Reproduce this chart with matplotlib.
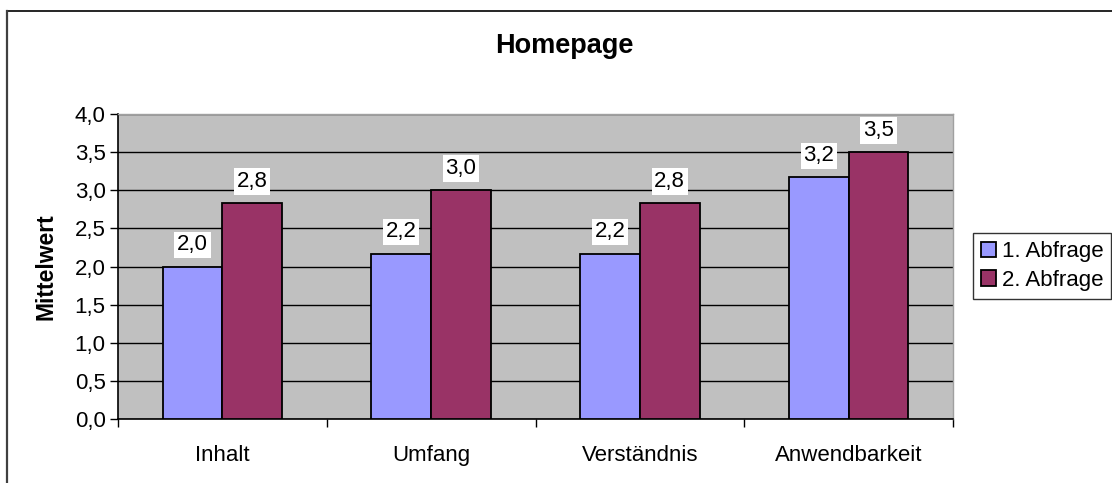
import matplotlib
matplotlib.use("Agg")
import matplotlib.pyplot as plt
from matplotlib.lines import Line2D
import numpy as np

categories = ["Inhalt", "Umfang", "Verständnis", "Anwendbarkeit"]
series_names = ["1. Abfrage", "2. Abfrage"]
abfrage1 = [2.0, 2.17, 2.17, 3.17]
abfrage2 = [2.83, 3.0, 2.83, 3.5]
yticks = [0.0, 0.5, 1.0, 1.5, 2.0, 2.5, 3.0, 3.5, 4.0]
colors = ["#9999FF", "#993366"]

plt.rcParams['font.family'] = ['Liberation Sans', 'DejaVu Sans']
FS = 16

fig = plt.figure(figsize=(11.12, 4.83), dpi=100)
ax = fig.add_axes([118/1112, 1-419/483, (953-118)/1112, (419-114)/483])
ax.set_facecolor("#C0C0C0")

x = np.arange(len(categories))
w = 1/3.5
for i, (vals, c, name) in enumerate(zip([abfrage1, abfrage2], colors, series_names)):
    pos = x + (i - 0.5) * w
    ax.bar(pos, vals, width=w, color=c, edgecolor="black", linewidth=1.3,
           label=name, zorder=3)
    for p, v in zip(pos, vals):
        ax.annotate(f"{v:.1f}".replace(".", ","), (p, v), xytext=(0, 8),
                    textcoords="offset points", ha="center", va="bottom",
                    fontsize=FS, zorder=4,
                    bbox=dict(boxstyle="square,pad=0.12", fc="white", ec="none"))

ax.set_xlim(-0.5, len(categories) - 0.5)
ax.set_ylim(0, 4.0)
ax.set_yticks(yticks)
ax.set_yticklabels([f"{t:.1f}".replace(".", ",") for t in yticks], fontsize=FS)
ax.yaxis.grid(True, color="black", linewidth=1.0, zorder=1)
ax.set_axisbelow(True)
ax.set_xticks(np.arange(len(categories) + 1) - 0.5, minor=False)
ax.set_xticklabels([""] * (len(categories) + 1))
ax.set_xticks(x, minor=True)
ax.set_xticklabels(categories, minor=True, fontsize=FS)
ax.tick_params(axis="x", which="minor", length=0, pad=19)
ax.tick_params(axis="x", which="major", length=6, width=1, direction="out")
ax.tick_params(axis="y", length=6, width=1, direction="out", pad=3)
for s in ["top", "right"]:
    ax.spines[s].set_color("#A0A0A0")
    ax.spines[s].set_linewidth(1)
for s in ["left", "bottom"]:
    ax.spines[s].set_color("black")
    ax.spines[s].set_linewidth(1.2)

ax.set_ylabel("Mittelwert", fontsize=16.5, fontweight="bold", labelpad=12)
fig.text(564/1112, 1-46/483, "Homepage", ha="center", va="center",
         fontsize=19.5, fontweight="bold")

leg = fig.legend(loc="center left", bbox_to_anchor=(973/1112, 1-266/483),
                 fontsize=FS, frameon=True, fancybox=False, edgecolor="black",
                 handlelength=0.7, handleheight=0.7, handletextpad=0.25,
                 borderpad=0.35, labelspacing=0.35, borderaxespad=0)
leg.get_frame().set_linewidth(1)

fig.add_artist(Line2D([6.5/1112, 1], [1-11/483, 1-11/483], color="black", linewidth=1.2,
                      transform=fig.transFigure))
fig.add_artist(Line2D([6.5/1112, 6.5/1112], [0, 1-11/483], color="#404040", linewidth=1.6,
                      transform=fig.transFigure))

fig.savefig("out.png", dpi=100)
